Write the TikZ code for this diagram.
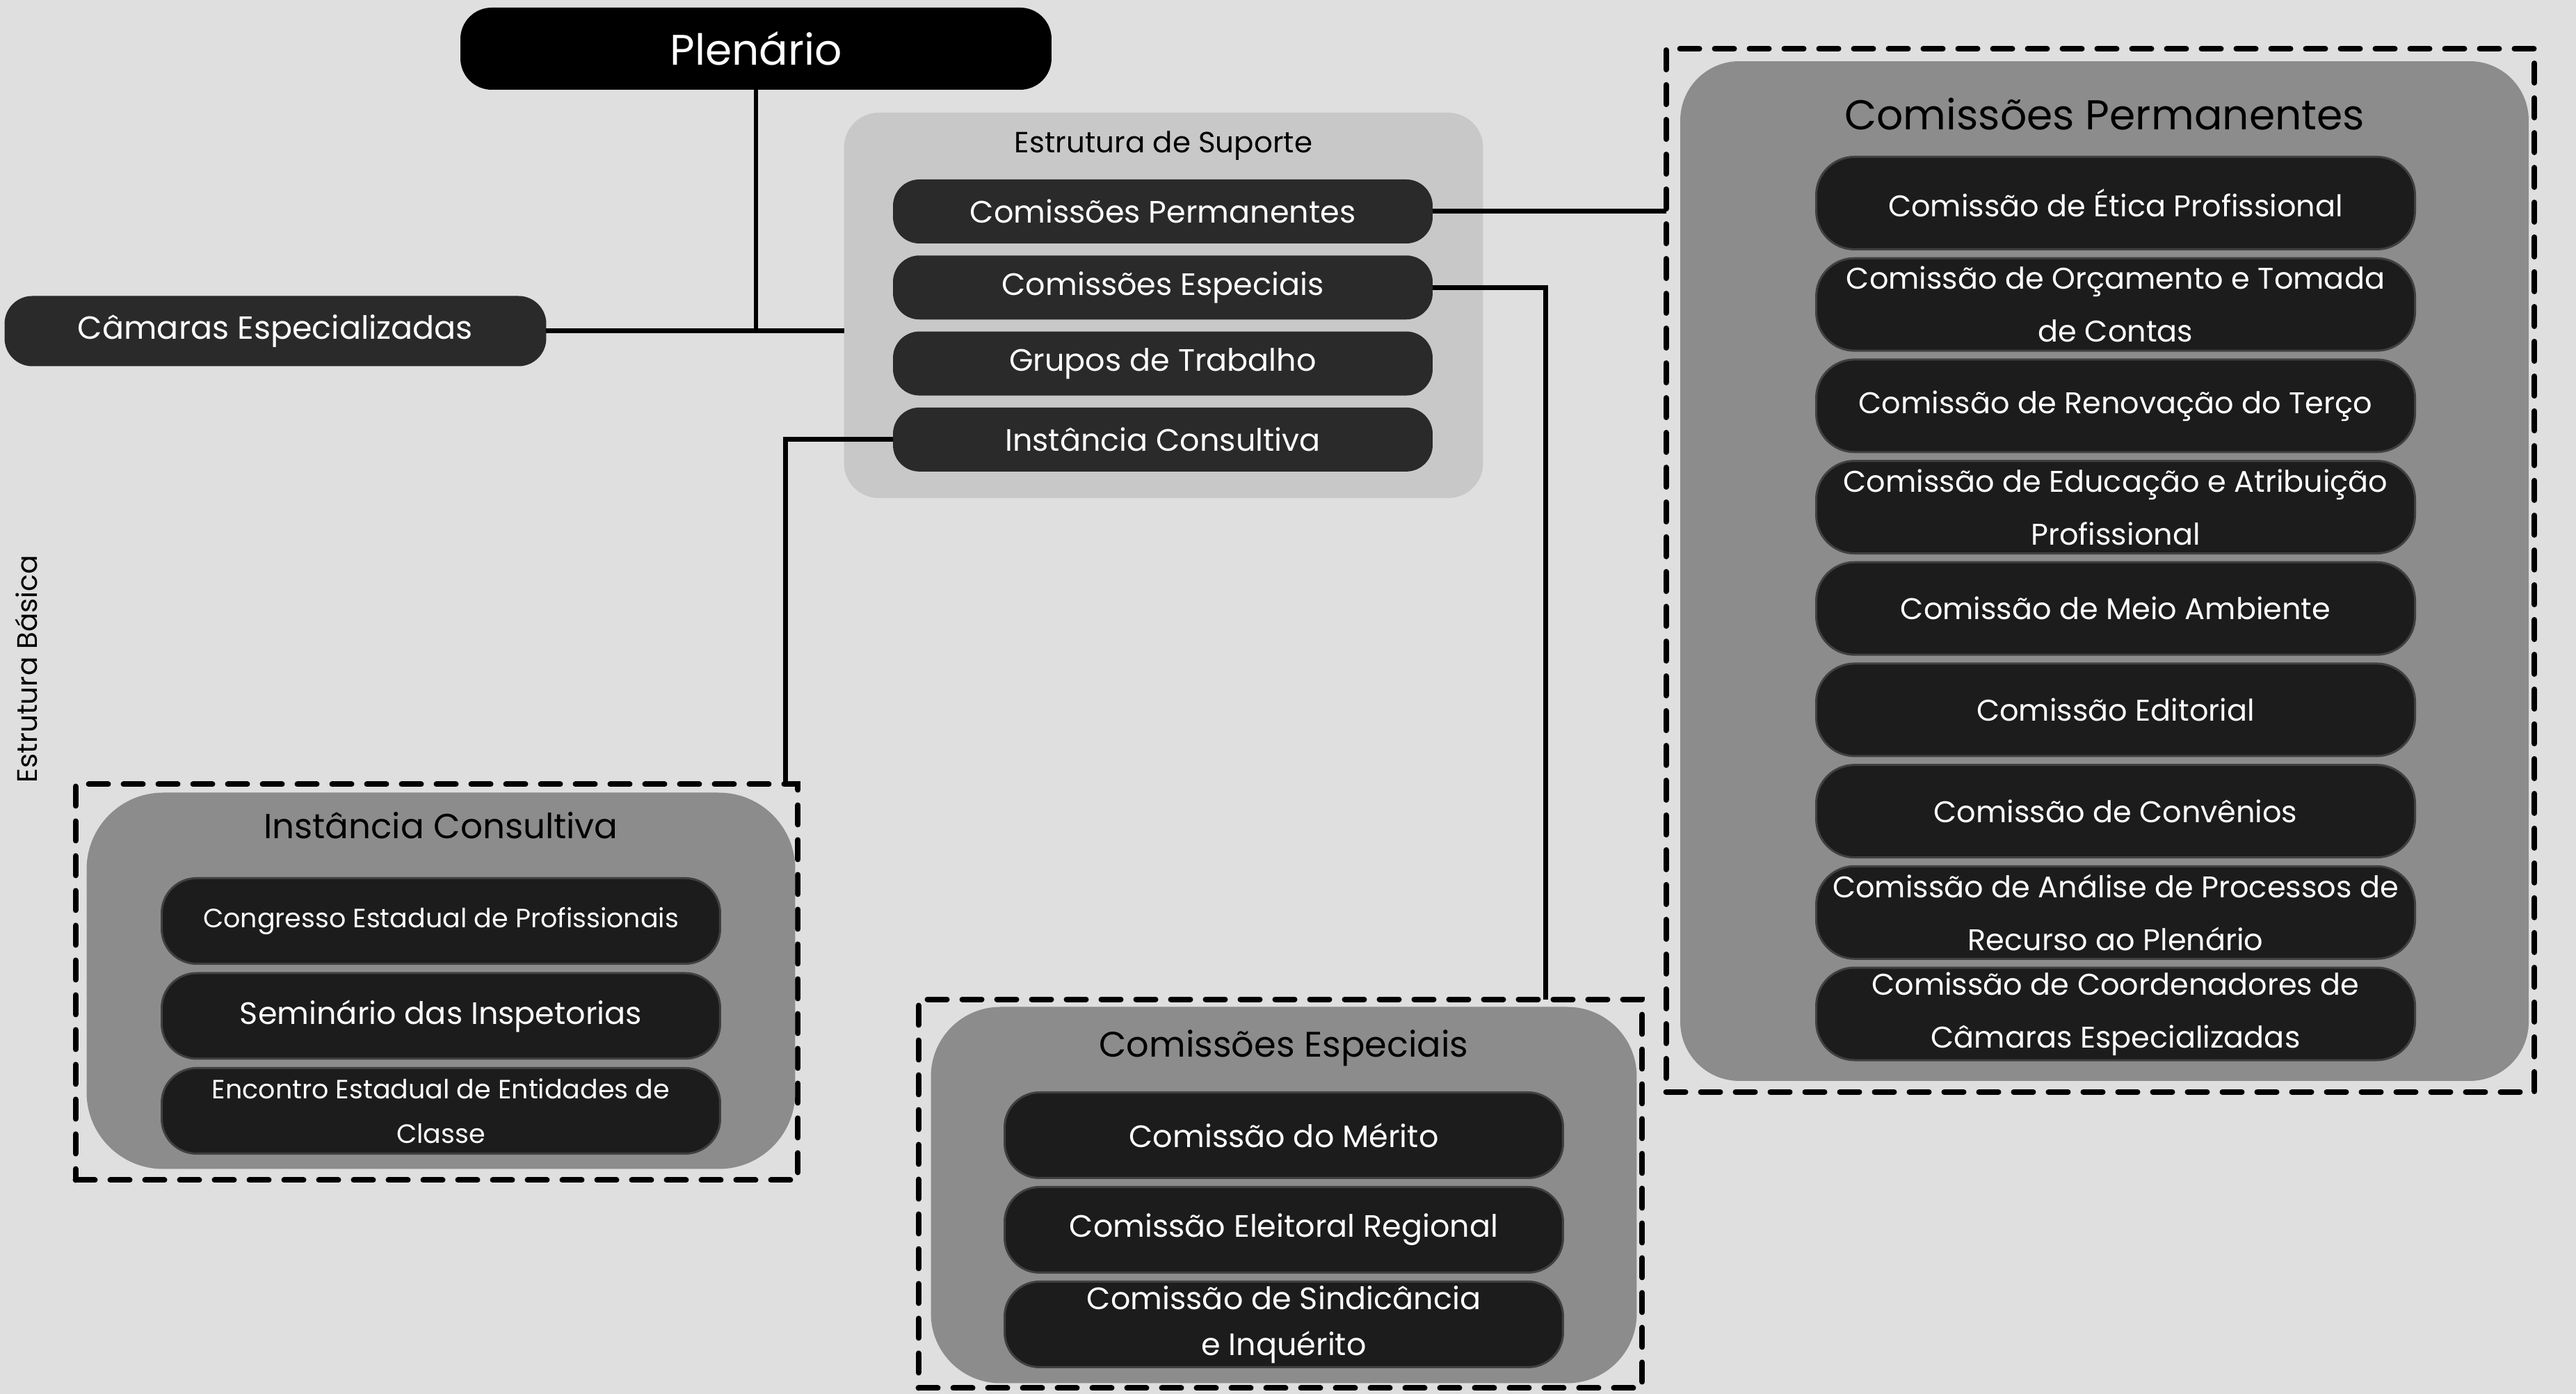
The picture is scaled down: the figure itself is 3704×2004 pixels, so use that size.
\documentclass[tikz,border=0pt]{standalone}
\usepackage{fontspec}
\setmainfont{Poppins}
\usetikzlibrary{positioning}
\definecolor{fundo}{RGB}{223,223,223}
\definecolor{suporte}{RGB}{200,200,200}
\definecolor{caixa}{RGB}{140,140,140}
\definecolor{item}{RGB}{42,42,42}
\definecolor{itemesc}{RGB}{28,28,28}

\begin{document}
\begin{tikzpicture}[x=0.1pt, y=-0.1pt, line width=0.7pt,
    every node/.style={outer sep=0pt},
    topo/.style={fill=black, text=white, rounded corners=4.5pt, inner sep=0pt},
    suporte item/.style={fill=item, text=white, rounded corners=3.8pt, minimum width=77.6pt,
      minimum height=9.2pt, inner sep=0pt, font=\fontsize{4.45}{5}\selectfont},
    caixa base/.style={fill=caixa, inner sep=0pt},
    tracejado/.style={draw=black, line width=0.8pt, dash pattern=on 2.8pt off 2.2pt,
      line cap=round, inner sep=0pt},
    cp item/.style={fill=itemesc, draw=black!75, line width=0.3pt, text=white, rounded corners=5.5pt,
      minimum width=86.1pt, minimum height=13.3pt, inner sep=0pt, align=center,
      font=\fontsize{4.3}{7.6}\selectfont},
    sub item/.style={fill=itemesc, draw=black!75, line width=0.3pt, text=white, rounded corners=5pt,
      minimum width=80.3pt, minimum height=12.3pt, inner sep=0pt, align=center,
      font=\fontsize{4.45}{6.6}\selectfont},
    titulo/.style={inner sep=0pt, text=black}
  ]
  \useasboundingbox (0,0) rectangle (3704,2004);
  \fill [fundo] (0,0) rectangle (3704,2004);

  % estrutura basica
  \node [topo, minimum width=85pt, minimum height=11.8pt, font=\fontsize{6.15}{7}\selectfont] (plenario) at (1087,70) {Plenário};
  \node [topo, fill=item, rounded corners=4pt, minimum width=77.9pt, minimum height=10.1pt, font=\fontsize{4.6}{5}\selectfont] (camaras) at (396,476) {Câmaras Especializadas};
  \node [titulo, rotate=90, font=\fontsize{4.05}{5}\selectfont] (basica) at (38,962) {Estrutura Básica};

  % estrutura de suporte
  \node [fill=suporte, rounded corners=5pt, minimum width=91.9pt, minimum height=55.4pt, inner sep=0pt] (suporte) at (1673,439) {};
  \node [titulo, font=\fontsize{4.2}{5}\selectfont] (suporte titulo) at (1673,209) {Estrutura de Suporte};
  \node [suporte item] (sup1) at (1672,304) {Comissões Permanentes};
  \node [suporte item, below=1.73pt of sup1] (sup2) {Comissões Especiais};
  \node [suporte item, below=1.73pt of sup2] (sup3) {Grupos de Trabalho};
  \node [suporte item, below=1.73pt of sup3] (sup4) {Instância Consultiva};

  % comissoes permanentes
  \node [tracejado, minimum width=124.9pt, minimum height=150pt] (cpdash) at (3020,820) {};
  \node [caixa base, rounded corners=8.5pt, minimum width=122pt, minimum height=146.6pt] (cpcaixa) at (3026,821) {};
  \node [titulo, font=\fontsize{6}{7}\selectfont] (cp titulo) at (3026,164) {Comissões Permanentes};
  \node [cp item] (cp1) at (3042,292) {Comissão de Ética Profissional};
  \node [cp item, below=1.27pt of cp1] (cp2) {Comissão de Orçamento e Tomada\\de Contas};
  \node [cp item, below=1.27pt of cp2] (cp3) {Comissão de Renovação do Terço};
  \node [cp item, below=1.27pt of cp3] (cp4) {Comissão de Educação e Atribuição\\Profissional};
  \node [cp item, below=1.27pt of cp4] (cp5) {Comissão de Meio Ambiente};
  \node [cp item, below=1.27pt of cp5] (cp6) {Comissão Editorial};
  \node [cp item, below=1.27pt of cp6] (cp7) {Comissão de Convênios};
  \node [cp item, below=1.27pt of cp7] (cp8) {Comissão de Análise de Processos de\\Recurso ao Plenário};
  \node [cp item, below=1.27pt of cp8] (cp9) {Comissão de Coordenadores de\\Câmaras Especializadas};

  % instancia consultiva
  \node [tracejado, minimum width=103.9pt, minimum height=56.9pt] (icdash) at (628,1412) {};
  \node [caixa base, rounded corners=11pt, minimum width=101.9pt, minimum height=54.1pt] (iccaixa) at (634,1410) {};
  \node [titulo, font=\fontsize{5}{6}\selectfont] (ic titulo) at (634,1187) {Instância Consultiva};
  \node [sub item, font=\fontsize{3.8}{5}\selectfont] (ic1) at (634,1324) {Congresso Estadual de Profissionais};
  \node [sub item, below=1.35pt of ic1, font=\fontsize{4.45}{5}\selectfont] (ic2) {Seminário das Inspetorias};
  \node [sub item, below=1.35pt of ic2, font=\fontsize{3.8}{6.4}\selectfont] (ic3) {Encontro Estadual de Entidades de\\Classe};

  % comissoes especiais
  \node [tracejado, minimum width=104.1pt, minimum height=55.9pt] (cedash) at (1841,1716) {};
  \node [caixa base, rounded corners=10pt, minimum width=101.5pt, minimum height=54.1pt] (cecaixa) at (1846,1718) {};
  \node [titulo, font=\fontsize{5.1}{6}\selectfont] (ce titulo) at (1846,1507) {Comissões Especiais};
  \node [sub item] (ce1) at (1846,1632) {Comissão do Mérito};
  \node [sub item, below=1.3pt of ce1] (ce2) {Comissão Eleitoral Regional};
  \node [sub item, below=1.3pt of ce2] (ce3) {Comissão de Sindicância\\e Inquérito};

  % ligacoes
  \coordinate (cein) at (2222,1437);
  \coordinate (icin) at (1129,1128);
  \draw [line width=0.55pt] (plenario.south) -- (plenario.south |- camaras.east);
  \draw (camaras.east) -- (camaras.east -| suporte.west);
  \draw (sup1.east) -- (sup1.east -| cpdash.west);
  \draw (sup2.east) -| (cein);
  \draw (sup4.west) -| (icin);
\end{tikzpicture}
\end{document}
